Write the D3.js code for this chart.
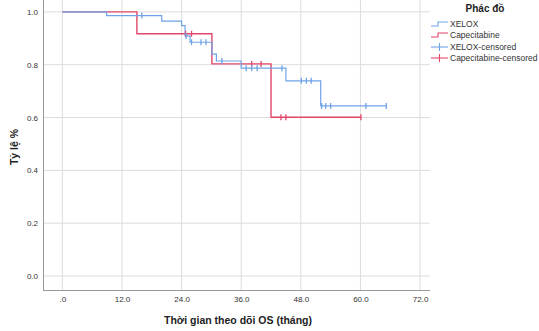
<!DOCTYPE html>
<html><head><meta charset="utf-8">
<script src="https://cdn.jsdelivr.net/npm/d3@7/dist/d3.min.js"></script>
<style>body{margin:0;background:#fff}svg{display:block;font-family:"Liberation Sans",Arial,sans-serif}</style>
</head><body><svg id="c" width="539" height="331"></svg>
<script>
// Data (time in months, survival proportion)
const xeloxSteps = [[0,1.0],[8.9,0.986],[20.0,0.965],[24.0,0.948],[24.7,0.909],[25.7,0.885],[30.1,0.840],[31.0,0.814],[36.0,0.787],[45.0,0.739],[52.0,0.644],[65.2,0.644]];
const capeSteps = [[0,1.0],[15.0,0.917],[30.1,0.803],[42.0,0.601],[60.1,0.601]];
const xeloxCensored = [[16.0,0.986],[24.9,0.909],[26.0,0.885],[27.9,0.885],[28.9,0.885],[32.1,0.814],[37.0,0.787],[38.1,0.787],[39.2,0.787],[44.2,0.787],[48.1,0.739],[49.1,0.739],[50.1,0.739],[52.2,0.644],[53.0,0.644],[54.0,0.644],[61.1,0.644],[65.2,0.644]];
const capeCensored = [[24.8,0.917],[26.0,0.917],[38.1,0.803],[40.0,0.803],[44.0,0.601],[45.0,0.601],[60.1,0.601]];
const xTicks = [0,12,24,36,48,60,72];
const xTickLabels = [".0","12.0","24.0","36.0","48.0","60.0","72.0"];
const yTicks = [0,0.2,0.4,0.6,0.8,1.0];
const yTickLabels = ["0.0","0.2","0.4","0.6","0.8","1.0"];
const legendLabels = ["XELOX","Capecitabine","XELOX-censored","Capecitabine-censored"];

const blue = "#6fa3e6", red = "#e2476a";
const svg = d3.select("#c");
const x = d3.scaleLinear().domain([-3.9,74]).range([43,430]);
const y = d3.scaleLinear().domain([-0.053,1.045]).range([290,0]);

// grid
const g = svg.append("g");
g.selectAll(".vg").data(xTicks).join("line")
  .attr("x1",d=>x(d)).attr("x2",d=>x(d)).attr("y1",0).attr("y2",290)
  .attr("stroke","#dcdcdc").attr("stroke-width",1);
g.selectAll(".hg").data(yTicks).join("line")
  .attr("x1",43).attr("x2",430).attr("y1",d=>y(d)).attr("y2",d=>y(d))
  .attr("stroke","#dcdcdc").attr("stroke-width",1);

// axes
const xAxis = d3.axisBottom(x).tickValues(xTicks).tickFormat((d,i)=>xTickLabels[i]).tickSize(0).tickPadding(6);
const yAxis = d3.axisLeft(y).tickValues(yTicks).tickFormat((d,i)=>yTickLabels[i]).tickSize(0).tickPadding(5);
const xa = svg.append("g").attr("transform","translate(0,290)").call(xAxis);
const ya = svg.append("g").attr("transform","translate(43,0)").call(yAxis);
[xa,ya].forEach(a=>{
  a.select(".domain").attr("stroke","#999");
  a.selectAll("text").attr("fill","#333").style("font-size","8px").style("font-family","'Liberation Sans',Arial,sans-serif");
});
xa.select(".domain").attr("d","M43,0.5H430");
ya.select(".domain").attr("d","M0.5,0V290");

// curves
const line = d3.line().x(d=>x(d[0])).y(d=>y(d[1])).curve(d3.curveStepAfter);
svg.append("path").datum(capeSteps).attr("d",line).attr("fill","none").attr("stroke",red).attr("stroke-width",1.4);
svg.append("path").datum(xeloxSteps).attr("d",line).attr("fill","none").attr("stroke",blue).attr("stroke-width",1.2);

function censor(data,color){
  svg.append("g").selectAll("line").data(data).join("line")
    .attr("x1",d=>x(d[0])).attr("x2",d=>x(d[0]))
    .attr("y1",d=>y(d[1])-3).attr("y2",d=>y(d[1])+3)
    .attr("stroke",color).attr("stroke-width",1.3);
}
censor(capeCensored,red);
censor(xeloxCensored,blue);

// axis titles
svg.append("text").attr("x",238).attr("y",324).attr("text-anchor","middle")
  .style("font-size","10.5px").style("font-weight","bold").attr("fill","#222")
  .text("Thời gian theo dõi OS (tháng)");
svg.append("text").attr("transform","translate(18,147) rotate(-90)").attr("text-anchor","middle")
  .style("font-size","10.5px").style("font-weight","bold").attr("fill","#222")
  .text("Tỷ lệ %");

// legend
svg.append("text").attr("x",485).attr("y",12).attr("text-anchor","middle")
  .style("font-size","10px").style("font-weight","bold").attr("fill","#222").text("Phác đồ");
const ly = [24,35,47,58];
const lcol = [blue,red,blue,red];
legendLabels.forEach((t,i)=>{
  const yy = ly[i];
  if(i<2){
    svg.append("path").attr("d",`M431,${yy+2}H438V${yy-2}H448`).attr("fill","none").attr("stroke",lcol[i]).attr("stroke-width",1.1);
  } else {
    svg.append("line").attr("x1",431).attr("x2",448).attr("y1",yy).attr("y2",yy).attr("stroke",lcol[i]).attr("stroke-width",1.1);
    svg.append("line").attr("x1",439.5).attr("x2",439.5).attr("y1",yy-4).attr("y2",yy+4).attr("stroke",lcol[i]).attr("stroke-width",1.1);
  }
  svg.append("text").attr("x",450).attr("y",yy+3).style("font-size","8.5px").attr("fill","#333").text(t);
});
</script></body></html>
